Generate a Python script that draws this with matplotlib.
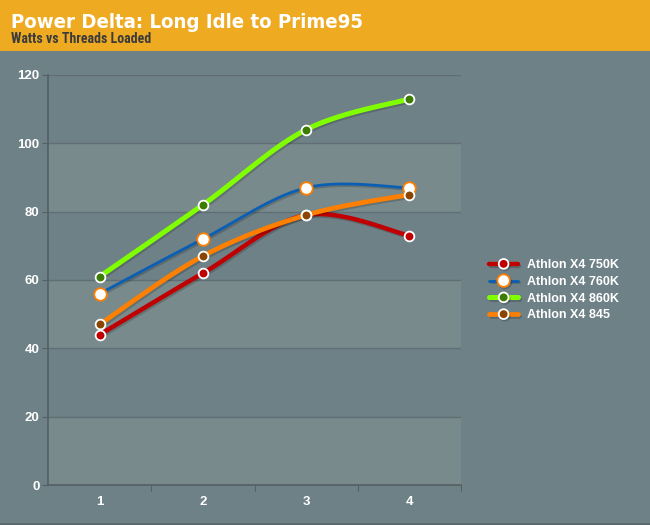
import numpy as np
import matplotlib
matplotlib.use("Agg")
import matplotlib.pyplot as plt
import matplotlib.patheffects as pe
from matplotlib.lines import Line2D
from matplotlib.patches import Rectangle

# data
threads = [1, 2, 3, 4]
series_names = ["Athlon X4 750K", "Athlon X4 760K", "Athlon X4 860K", "Athlon X4 845"]
watts_750k = [44, 62, 79, 73]
watts_760k = [56, 72, 87, 87]
watts_860k = [61, 82, 104, 113]
watts_845 = [47, 67, 79, 85]

y_ticks = [0, 20, 40, 60, 80, 100, 120]

BG = "#6e8187"
BAND = "#788a8b"
HEADER = "#eeab22"


def catmull_rom(xs, ys, n=40):
    # smooth curve through the points, like a spline chart
    px = [xs[0]] + list(xs) + [xs[-1]]
    py = [ys[0]] + list(ys) + [ys[-1]]
    out_x, out_y = [], []
    for i in range(1, len(px) - 2):
        t = np.linspace(0, 1, n)
        for arr, pts in ((out_x, px), (out_y, py)):
            p0, p1, p2, p3 = pts[i - 1], pts[i], pts[i + 1], pts[i + 2]
            v = 0.5 * ((2 * p1) + (-p0 + p2) * t
                       + (2 * p0 - 5 * p1 + 4 * p2 - p3) * t ** 2
                       + (-p0 + 3 * p1 - 3 * p2 + p3) * t ** 3)
            arr.extend(v)
    return out_x, out_y


fig = plt.figure(figsize=(6.5, 5.25), dpi=100)
fig.patch.set_facecolor(BG)

# header band
fig.patches.append(Rectangle((0, 1 - 51 / 525), 1, 51 / 525, transform=fig.transFigure,
                             facecolor=HEADER, edgecolor="none", zorder=0))
fig.patches.append(Rectangle((0, 0), 1, 2 / 525, transform=fig.transFigure,
                             facecolor="#5d6b70", edgecolor="none", zorder=0))
fig.text(11 / 650, 1 - 28 / 525, "Power Delta: Long Idle to Prime95", color="white",
         fontsize=14.6, fontweight="bold", fontstretch="condensed", family="DejaVu Sans",
         ha="left", va="baseline")
fig.text(11 / 650, 1 - 43 / 525, "Watts vs Threads Loaded", color="#3b3b3b",
         fontsize=10, fontweight="bold", ha="left", va="baseline", family="Roboto Condensed")

ax = fig.add_axes([48 / 650, 40 / 525, 413 / 650, 410 / 525])
ax.set_facecolor(BG)
ax.set_xlim(0.5, 4.5)
ax.set_ylim(0, 120)

# alternating bands
for lo in [0, 40, 80]:
    ax.axhspan(lo, lo + 20, color=BAND, zorder=0, lw=0)
for yv in y_ticks[1:]:
    ax.axhline(yv, color="#616e73", lw=1, zorder=1)

ax.set_yticks(y_ticks)
ax.set_xticks([1.5, 2.5, 3.5, 4.5])
ax.set_xticklabels([])
ax.set_xticks(threads, minor=True)
ax.set_xticklabels([str(t) for t in threads], minor=True)
ax.tick_params(axis="x", which="minor", length=0, pad=8)
ax.tick_params(axis="x", which="major", length=4, color="#555f63", direction="out")
ax.tick_params(axis="y", length=4, color="#555f63", pad=2)
for lbl in ax.get_yticklabels() + ax.get_xticklabels(minor=True):
    lbl.set_color("white")
    lbl.set_fontweight("bold")
    lbl.set_fontsize(9.5)
    lbl.set_family("Liberation Sans")

for side in ["top", "right"]:
    ax.spines[side].set_visible(False)
for side in ["left", "bottom"]:
    ax.spines[side].set_color("#555f63")
    ax.spines[side].set_linewidth(1.2)

styles = [
    (watts_750k, "#c00000", 3.2, "#c00000", "white", 7),
    (watts_760k, "#0a5fb4", 2.0, "white", "#ff7f00", 9),
    (watts_860k, "#80ff00", 3.6, "#3a7d00", "white", 7),
    (watts_845, "#ff7f00", 3.4, "#8b4500", "white", 7),
]
shadow = [pe.SimpleLineShadow(offset=(1, -1.2), alpha=0.18, shadow_color="black"), pe.Normal()]

handles = []
for i, (vals, col, lw, mfc, mec, ms) in enumerate(styles):
    sx, sy = catmull_rom(threads, vals)
    ax.plot(sx, sy, color=col, lw=lw, zorder=3 + i, path_effects=shadow,
            solid_capstyle="round", clip_on=False)
    ax.plot(threads, vals, ls="none", marker="o", ms=ms, mfc=mfc, mec=mec, mew=1.3,
            zorder=10 + i, clip_on=False)
    handles.append(Line2D([0], [0], color=col, lw=lw, marker="o", ms=ms, mfc=mfc,
                          mec=mec, mew=1.3, path_effects=shadow, solid_capstyle="round"))

leg = fig.legend(handles, series_names, loc="upper left",
                 bbox_to_anchor=(478 / 650, 1 - 248 / 525), frameon=False,
                 handlelength=2.3, handletextpad=0.7, labelspacing=0.38,
                 prop={"weight": "bold", "size": 9, "family": "Liberation Sans"})
for t in leg.get_texts():
    t.set_color("white")

plt.savefig("out.png", dpi=100, facecolor=fig.get_facecolor())
